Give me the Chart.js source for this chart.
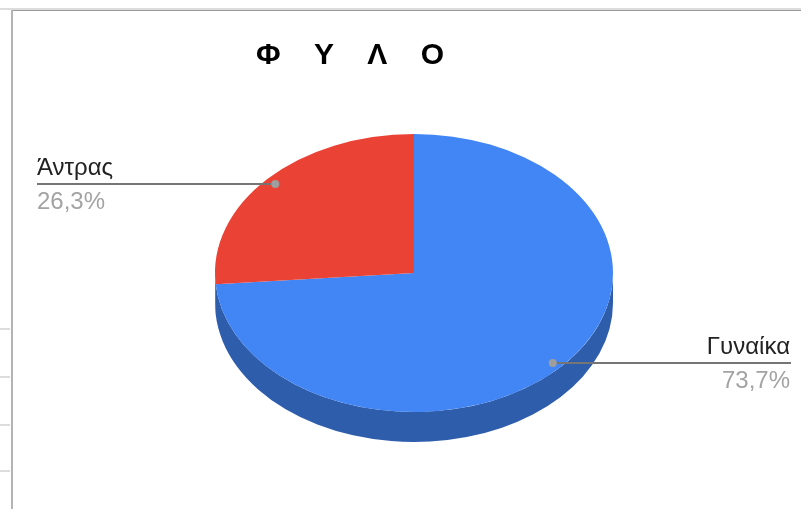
<!DOCTYPE html>
<html>
<head>
<meta charset="utf-8">
<style>
  html, body { margin: 0; padding: 0; background: #fff; }
  #wrap { position: relative; width: 801px; height: 509px; overflow: hidden; }
  .frame { position: absolute; }
  canvas { position: absolute; left: 0; top: 0; }
</style>
</head>
<body>
<div id="wrap">
  <div class="frame" style="left:0;top:8px;width:801px;height:2px;background:#dcdcdc"></div>
  <div class="frame" style="left:12px;top:10px;width:789px;height:1px;background:#999"></div>
  <div class="frame" style="left:11px;top:10px;width:2px;height:499px;background:#b4b4b4"></div>
  <div class="frame" style="left:0;top:328px;width:10px;height:2px;background:#dcdcdc"></div>
  <div class="frame" style="left:0;top:376px;width:10px;height:2px;background:#dcdcdc"></div>
  <div class="frame" style="left:0;top:424px;width:10px;height:2px;background:#dcdcdc"></div>
  <div class="frame" style="left:0;top:470px;width:10px;height:2px;background:#dcdcdc"></div>
  <canvas id="myChart" width="801" height="509"></canvas>
</div>
<script src="https://cdn.jsdelivr.net/npm/chart.js@4"></script>
<script>
const chartTitle = 'Φ    Υ    Λ    Ο';
const categories = ['Γυναίκα', 'Άντρας'];
const shares = [73.7, 26.3];
const shareLabels = ['73,7%', '26,3%'];
const topColors = ['#4285f4', '#ea4335'];
const sideColors = ['#2e5dac', '#a42f25'];

// the pie is round in chart.js, so squash it around its centre
const squash = 139 / 199;
const depth = 30;

const pie3d = {
  id: 'pie3d',
  beforeDatasetsDraw(chart) {
    const ctx = chart.ctx;
    const arcs = chart.getDatasetMeta(0).data;
    ctx.save();
    ctx.translate(arcs[0].x, arcs[0].y);
    ctx.scale(1, squash);
    ctx.translate(-arcs[0].x, -arcs[0].y);
    // side wall, only the front half of the rim shows
    arcs.forEach((arc, i) => {
      const from = Math.max(arc.startAngle, 0);
      const to = Math.min(arc.endAngle, Math.PI);
      if (from >= to) return;
      ctx.fillStyle = sideColors[i];
      ctx.beginPath();
      ctx.arc(arc.x, arc.y, arc.outerRadius, from, to);
      ctx.arc(arc.x, arc.y + depth / squash, arc.outerRadius, to, from, true);
      ctx.closePath();
      ctx.fill();
    });
  },
  afterDatasetsDraw(chart) {
    chart.ctx.restore();
  },
};

const callouts = {
  id: 'callouts',
  afterDraw(chart) {
    const ctx = chart.ctx;
    const arcs = chart.getDatasetMeta(0).data;

    ctx.save();
    ctx.fillStyle = '#000';
    ctx.font = 'bold 30px "Liberation Sans"';
    ctx.textAlign = 'center';
    ctx.textBaseline = 'alphabetic';
    ctx.fillText(chartTitle, 350, 64);
    ctx.restore();

    arcs.forEach((arc, i) => {
      const mid = (arc.startAngle + arc.endAngle) / 2;
      const px = arc.x + Math.cos(mid) * arc.outerRadius * 0.948;
      const py = Math.ceil(arc.y + Math.sin(mid) * arc.outerRadius * 0.948 * squash);
      const right = px > arc.x;
      const edge = right ? 791 : 37;

      ctx.save();
      ctx.strokeStyle = '#757575';
      ctx.lineWidth = 2;
      ctx.beginPath();
      ctx.moveTo(px, py);
      ctx.lineTo(edge, py);
      ctx.stroke();

      ctx.fillStyle = '#9e9e9e';
      ctx.beginPath();
      ctx.arc(px, py, 4, 0, Math.PI * 2);
      ctx.fill();

      ctx.textAlign = right ? 'right' : 'left';
      ctx.font = '24px "Liberation Sans"';
      ctx.fillStyle = '#222';
      ctx.fillText(categories[i], right ? 790 : 37, py - 9);
      ctx.fillStyle = '#a3a3a3';
      ctx.fillText(shareLabels[i], right ? 790 : 37, py + 25);
      ctx.restore();
    });
  },
};

const config = {
  type: 'pie',
  data: {
    labels: categories,
    datasets: [
      {
        data: shares,
        backgroundColor: topColors,
        borderWidth: 0,
      },
    ],
  },
  options: {
    responsive: false,
    animation: false,
    layout: {
      padding: { left: 215, right: 188, top: 74, bottom: 37 },
    },
    plugins: {
      legend: { display: false },
      title: { display: false },
      tooltip: { enabled: false },
    },
  },
  plugins: [pie3d, callouts],
};

const myChart = new Chart(document.getElementById('myChart'), config);
</script>
</body>
</html>
